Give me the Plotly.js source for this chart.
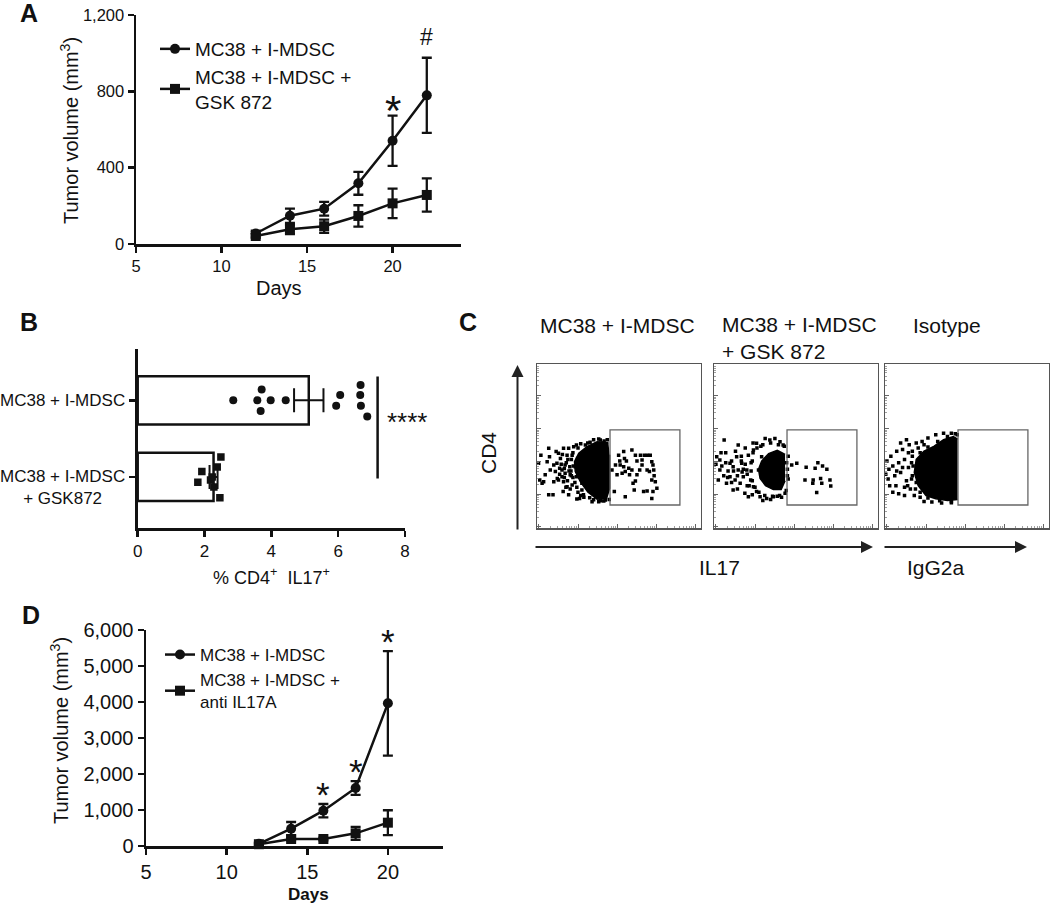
<!DOCTYPE html>
<html><head><meta charset="utf-8">
<script src="https://cdn.plot.ly/plotly-3.0.1.min.js"></script>
<style>html,body{margin:0;padding:0;background:#fff}#chart{width:1050px;height:904px}</style>
</head><body><div id="chart"></div>
<script>
// ---------------- Panel A data ----------------
const daysA = [12, 14, 16, 18, 20, 22];
const tumorA_mdsc = [55, 148, 185, 318, 541, 779];
const semA_mdsc = [15, 37, 36, 60, 132, 197];
const tumorA_gsk = [42, 77, 93, 147, 213, 257];
const semA_gsk = [10, 25, 35, 56, 77, 87];
const namesA = ['MC38 + I-MDSC', 'MC38 + I-MDSC +<br>GSK 872'];
const sigDaysA = [20, 22];
const sigMarksA = ['*', '#'];
const ticksA_x = [5, 10, 15, 20];
const ticksA_y = [0, 400, 800, 1200];

// ---------------- Panel B data ----------------
const groupsB = ['MC38 + I-MDSC', 'MC38 + I-MDSC<br>+ GSK872'];
const meanB = [5.12, 2.27];
const semB = [0.44, 0.12];
const dotsB_mdsc = [2.86, 3.71, 3.58, 3.98, 3.68, 4.43, 6.06, 5.94, 6.67, 6.66, 6.68, 6.87];
const jitterB_mdsc = [0, -0.14, 0, 0, 0.14, 0, -0.07, 0.07, -0.2, -0.07, 0.07, 0.21];
const dotsB_gsk = [2.49, 1.92, 1.80, 2.38, 2.23, 2.28, 2.46, 2.18];
const jitterB_gsk = [-0.26, -0.07, 0.07, -0.13, 0, 0.13, 0.27, 0.04];
const sigB = '****';
const ticksB_x = [0, 2, 4, 6, 8];

// ---------------- Panel C data (log-decade units) ----------------
const titlesC = ['MC38 + I-MDSC', 'MC38 + I-MDSC<br>+ GSK 872', 'Isotype'];
const xLabelsC = ['IL17', 'IgG2a'];
const yLabelC = 'CD4';
const gateX = [1.87, 3.66];
const gateY = [0.71, 3.0];

const coreC1x = [1.83, 1.54, 1.28, 1.07, 0.96, 0.98, 1.11, 1.30, 1.54, 1.78, 1.86, 1.86];
const coreC1y = [2.61, 2.64, 2.49, 2.29, 2.03, 1.73, 1.42, 1.11, 0.89, 0.91, 1.22, 2.24];
const dotsC1x = [0.04,0.07,0.13,0.17,0.30,0.26,0.32,0.34,0.30,0.41,0.43,0.47,0.51,0.55,0.58,0.64,0.68,0.67,0.72,0.77,0.81,0.85,0.90,0.94,1.01,1.02,1.09,0.49,0.60,0.77,0.81,0.64,0.90,0.43,0.55,0.72,0.21,0.10,0.84,0.68,1.19,1.15,1.24,1.36,1.62,1.72,1.04,0.98,1.01,1.15,1.58,1.71,1.41,
  1.05,1.12,1.30,1.45,1.58,1.68,1.80,0.92,0.88,0.93,0.87,0.92,0.97,1.02,1.05,1.12,1.20,1.35,1.45,1.62,1.75,1.85,0.62,0.70,0.75,0.70,0.78,0.82,0.88,0.79,0.65,0.58,0.52,0.74,0.85];
const dotsC1y = [1.98,1.47,1.37,1.42,2.44,2.03,2.18,1.78,1.02,1.02,1.42,1.73,1.98,2.29,1.83,1.57,1.42,1.12,1.93,2.23,2.44,1.63,1.32,2.49,2.54,0.89,0.91,2.34,2.13,1.27,1.02,1.78,2.23,1.93,1.47,1.68,1.63,2.23,1.88,2.44,1.02,1.17,2.54,2.62,2.69,2.66,2.13,1.88,1.57,1.37,0.81,0.83,0.81,
  2.45,2.58,2.60,2.70,2.72,2.60,2.70,2.30,2.10,1.90,1.75,1.55,1.40,1.25,1.10,1.00,0.95,0.93,0.87,0.84,0.86,0.88,1.95,1.82,2.00,1.55,1.45,1.75,1.60,2.10,2.25,1.65,1.52,1.25,1.20];
const gateDotsC1x = [1.92,2.01,2.09,2.12,2.22,2.24,2.29,2.43,2.52,2.56,2.65,2.69,2.75,2.83,2.90,2.94,2.97,2.69,2.82,2.88,2.99,3.00,2.94,3.03,3.07,2.97,2.82,2.73,2.52,2.46,2.43,2.35,2.26,2.18,2.05,1.98,2.26,2.49,2.63,2.56,2.37,2.94,2.13,2.22];
const gateDotsC1y = [1.78,1.93,2.23,2.05,2.34,2.13,2.05,2.39,2.23,2.05,2.23,2.08,2.23,2.23,2.23,2.03,1.93,1.93,1.78,1.73,1.78,1.60,1.47,1.42,1.22,1.12,1.14,1.12,1.44,1.37,1.78,1.83,1.73,1.68,1.63,1.12,0.96,1.17,1.78,1.63,1.63,0.91,1.93,1.88];

const coreC2x = [1.82, 1.62, 1.40, 1.22, 1.14, 1.18, 1.32, 1.52, 1.72, 1.82];
const coreC2y = [2.25, 2.38, 2.28, 2.05, 1.80, 1.52, 1.30, 1.18, 1.18, 1.45];
const dotsC2x = [0.26,0.07,0.15,0.11,0.41,0.49,0.58,0.62,0.67,0.79,0.88,0.84,1.01,1.09,1.31,1.43,1.56,1.69,1.77,1.18,1.35,1.52,1.73,0.41,0.32,0.49,0.15,0.71,0.75,0.88,1.01,1.14,0.94,0.62,0.54,1.22,1.09,1.82,0.30,0.20,0.55,0.70,0.60,0.95,0.85,0.98,1.25,1.45,1.62,1.90,1.88,1.90,0.36,0.72,0.45,1.00,1.20,0.80,
  1.00,1.10,1.25,1.45,1.65,1.80,0.98,0.95,0.98,1.05,1.15,1.30,1.50,1.68,1.85,1.88,1.86,0.80,0.85,0.75,0.90,0.70,0.60,0.50,0.45,0.35,0.25,0.30,0.18,0.05];
const dotsC2y = [2.69,2.18,1.78,1.47,1.57,1.88,2.18,2.54,1.37,1.07,0.96,1.78,2.39,2.59,2.74,2.69,2.74,2.64,2.54,0.96,0.91,0.96,0.95,1.98,1.37,1.17,2.08,1.98,1.57,2.23,1.27,1.78,1.47,1.78,1.47,2.18,1.12,1.07,2.30,1.90,2.35,2.20,1.20,2.00,1.30,1.02,0.85,0.88,0.98,2.20,1.80,1.50,1.75,1.72,2.05,2.60,2.50,2.45,
  2.30,2.45,2.55,2.60,2.55,2.50,2.05,1.75,1.45,1.25,1.10,1.00,0.98,1.00,1.15,1.60,2.00,1.95,1.65,1.80,1.30,2.05,1.60,1.75,1.40,1.55,1.60,2.00,2.30,1.95];
const gateDotsC2x = [1.99, 2.12, 2.36, 2.59, 2.66, 2.78, 2.89, 2.33, 2.54, 2.73, 2.97, 2.99, 2.76, 2.53, 2.63];
const gateDotsC2y = [1.93, 1.98, 1.86, 1.83, 2.00, 1.90, 1.80, 1.47, 1.47, 1.52, 1.47, 1.29, 1.37, 1.37, 1.09];

const coreC3x = [1.86, 1.75, 1.50, 1.25, 1.00, 0.80, 0.75, 0.85, 1.05, 1.30, 1.60, 1.86];
const coreC3y = [2.72, 2.80, 2.70, 2.50, 2.35, 2.10, 1.70, 1.30, 1.00, 0.90, 0.85, 0.88];
const dotsC3x = [0.05,0.10,0.08,0.15,0.20,0.25,0.30,0.35,0.40,0.28,0.45,0.50,0.55,0.60,0.62,0.70,0.65,0.20,0.35,0.50,0.75,0.90,0.40,0.55,0.80,0.95,1.10,1.30,1.50,1.70,1.85,0.12,0.02,0.70,0.68,0.80,1.00,1.20,1.45,1.70,
  0.70,0.72,0.68,0.78,0.90,1.10,1.40,1.70,0.90,1.10,1.35,1.60,1.80,0.60,0.58,0.45,0.30,0.50,0.85,1.00];
const dotsC3y = [2.05,1.80,1.50,2.20,1.90,1.60,2.35,2.00,1.70,1.30,2.40,2.10,1.45,1.85,2.55,2.35,1.20,1.10,1.05,1.00,1.00,0.95,2.60,2.70,2.60,2.65,2.75,2.85,2.90,2.90,2.85,1.30,1.65,1.60,2.00,1.40,0.82,0.80,0.77,0.78,
  2.20,1.90,1.50,1.20,1.10,0.92,0.84,0.82,2.30,2.48,2.65,2.80,2.88,2.30,1.30,1.85,1.75,1.25,2.45,2.55];

// ---------------- Panel D data ----------------
const daysD = [12, 14, 16, 18, 20];
const tumorD_mdsc = [60, 481, 981, 1611, 3963];
const semD_mdsc = [40, 185, 185, 190, 1450];
const tumorD_anti = [50, 194, 194, 352, 648];
const semD_anti = [30, 40, 35, 180, 345];
const namesD = ['MC38 + I-MDSC', 'MC38 + I-MDSC +<br>anti IL17A'];
const sigDaysD = [16, 18, 20];
const ticksD_x = [5, 10, 15, 20];
const ticksD_y = [0, 1000, 2000, 3000, 4000, 5000, 6000];

// ---------------- helpers ----------------
const W = 1050, H = 904;
const X = px => px / W;
const Y = py => 1 - py / H;
const FONT = '"Liberation Sans", Arial, Helvetica, sans-serif';
const INK = '#111';

const traces = [];
const annotations = [];
const shapes = [];

function txt(text, px, py, size, opts) {
  annotations.push(Object.assign({
    text: text, x: X(px), y: Y(py), xref: 'paper', yref: 'paper', showarrow: false,
    font: {family: FONT, size: size, color: INK}, xanchor: 'center', yanchor: 'middle'
  }, opts || {}));
}

function lineAxis(extra) {
  return Object.assign({
    showline: true, linecolor: INK, linewidth: 2.5, ticks: 'outside', ticklen: 6,
    tickwidth: 2.5, tickcolor: INK, showgrid: false, zeroline: false, fixedrange: true,
    tickfont: {family: FONT, color: INK}
  }, extra);
}

function growthSeries(days, vals, sems, name, symbol, xa, ya, leg) {
  traces.push({
    type: 'scatter', mode: 'lines+markers', x: days, y: vals, name: name,
    xaxis: xa, yaxis: ya, legend: leg, cliponaxis: false,
    line: {color: INK, width: 2.5},
    marker: {symbol: symbol, size: 10, color: INK},
    error_y: {type: 'data', array: sems, visible: true, color: INK, thickness: 2.3, width: 5}
  });
}

// ---------------- Panel A ----------------
growthSeries(daysA, tumorA_mdsc, semA_mdsc, namesA[0], 'circle', 'x', 'y', 'legend');
growthSeries(daysA, tumorA_gsk, semA_gsk, namesA[1], 'square', 'x', 'y', 'legend');
sigDaysA.forEach((d, i) => {
  const k = daysA.indexOf(d);
  const star = sigMarksA[i] === '*';
  annotations.push({
    x: d, y: tumorA_mdsc[k] + semA_mdsc[k], xref: 'x', yref: 'y', text: sigMarksA[i],
    showarrow: false, yanchor: 'bottom', yshift: star ? -20 : 6,
    font: {family: FONT, size: star ? 42 : 23, color: INK}
  });
});

// ---------------- Panel B ----------------
traces.push({
  type: 'bar', orientation: 'h', x: meanB, y: [0, 1], width: 0.63,
  xaxis: 'x2', yaxis: 'y2', showlegend: false,
  marker: {color: '#fff', line: {color: INK, width: 2.5}},
  error_x: {type: 'data', array: semB, visible: true, color: INK, thickness: 2, width: 12}
});
traces.push({
  type: 'scatter', mode: 'markers', x: dotsB_mdsc, y: jitterB_mdsc.map(j => 0 + j),
  xaxis: 'x2', yaxis: 'y2', showlegend: false,
  marker: {symbol: 'circle', size: 8, color: INK}
});
traces.push({
  type: 'scatter', mode: 'markers', x: dotsB_gsk, y: jitterB_gsk.map(j => 1 + j),
  xaxis: 'x2', yaxis: 'y2', showlegend: false,
  marker: {symbol: 'square', size: 7.5, color: INK}
});
shapes.push({type: 'line', xref: 'x2', yref: 'y2', x0: 7.18, x1: 7.18, y0: -0.31, y1: 1.02,
  line: {color: INK, width: 2.5}});
annotations.push({x: 7.40, y: 0.28, xref: 'x2', yref: 'y2', text: sigB, showarrow: false,
  xanchor: 'left', yanchor: 'middle', font: {family: FONT, size: 26, color: INK}});
txt(groupsB[0], 127, 400, 17, {xanchor: 'right'});
txt(groupsB[1], 127, 487, 17, {xanchor: 'right', align: 'center'});
txt('% CD4<sup>+</sup>  IL17<sup>+</sup>', 271, 576, 18);

// ---------------- Panel C ----------------
const coresC = [[coreC1x, coreC1y], [coreC2x, coreC2y], [coreC3x, coreC3y]];
const dotsC = [[dotsC1x.concat(gateDotsC1x), dotsC1y.concat(gateDotsC1y)],
               [dotsC2x.concat(gateDotsC2x), dotsC2y.concat(gateDotsC2y)],
               [dotsC3x, dotsC3y]];
const framesC = [[537, 701], [714, 878], [885, 1049]];
const minorTicks = (n, off) => { const v = []; for (let d = 0; d < n; d++) for (let k = 2; k <= 9; k++) v.push(d + off + Math.log10(k)); return v; };
const majorTicks = (n, off) => { const v = []; for (let d = 0; d <= n; d++) v.push(d + off); return v; };

const layout = {
  width: W, height: H, margin: {l: 0, r: 0, t: 0, b: 0},
  paper_bgcolor: '#fff', plot_bgcolor: '#fff', showlegend: true,
  font: {family: FONT, color: INK},
  xaxis: lineAxis({domain: [X(136), X(461)], range: [5, 24], tickvals: ticksA_x, anchor: 'y', tickfont: {family: FONT, size: 16.5, color: INK}}),
  yaxis: lineAxis({domain: [Y(244), Y(15)], range: [0, 1200], tickvals: ticksA_y, tickformat: ',d', anchor: 'x', tickfont: {family: FONT, size: 16.5, color: INK}}),
  xaxis2: lineAxis({domain: [X(137.7), X(405)], range: [0, 8], tickvals: ticksB_x, anchor: 'y2', tickfont: {family: FONT, size: 17, color: INK}}),
  yaxis2: lineAxis({domain: [Y(528.3), Y(349.3)], range: [1.67, -0.665], tickvals: [0, 1], showticklabels: false, anchor: 'x2'}),
  xaxis6: lineAxis({domain: [X(146), X(442.7)], range: [5, 23.4], tickvals: ticksD_x, anchor: 'y6', tickfont: {family: FONT, size: 20, color: INK}}),
  yaxis6: lineAxis({domain: [Y(846), Y(630)], range: [0, 6000], tickvals: ticksD_y, tickformat: ',d', anchor: 'x6', tickfont: {family: FONT, size: 20, color: INK}}),
  legend: {x: X(155), y: Y(30), xanchor: 'left', yanchor: 'top', bgcolor: 'rgba(0,0,0,0)',
    font: {family: FONT, size: 19, color: INK}, tracegroupgap: 0, itemclick: false},
  legend2: {x: X(160), y: Y(637), xanchor: 'left', yanchor: 'top', bgcolor: 'rgba(0,0,0,0)',
    font: {family: FONT, size: 17, color: INK}, tracegroupgap: 0, itemclick: false}
};

framesC.forEach((f, i) => {
  const k = i + 3;
  const xa = 'x' + k, ya = 'y' + k;
  layout['xaxis' + k] = {
    domain: [X(f[0]), X(f[1])], range: [0, 4.2], anchor: ya, showline: true, mirror: true,
    linecolor: '#555', linewidth: 1.3, ticks: 'inside', ticklen: 4, tickwidth: 1, tickcolor: '#666',
    tickmode: 'array', tickvals: majorTicks(4, 0.05), showticklabels: false, showgrid: false, zeroline: false,
    minor: {ticks: 'inside', ticklen: 2, tickwidth: 0.8, tickcolor: '#888', tickmode: 'array', tickvals: minorTicks(4, 0.05)}
  };
  layout['yaxis' + k] = {
    domain: [Y(528.3), Y(364.3)], range: [0, 5], anchor: xa, showline: true, mirror: true,
    linecolor: '#555', linewidth: 1.3, ticks: 'inside', ticklen: 4, tickwidth: 1, tickcolor: '#666',
    tickmode: 'array', tickvals: majorTicks(4, 0.04), showticklabels: false, showgrid: false, zeroline: false,
    minor: {ticks: 'inside', ticklen: 2, tickwidth: 0.8, tickcolor: '#888', tickmode: 'array', tickvals: minorTicks(5, 0.04)}
  };
  traces.push({type: 'scatter', mode: 'lines', x: coresC[i][0], y: coresC[i][1], fill: 'toself',
    fillcolor: '#000', line: {color: '#000', width: 1.5}, xaxis: xa, yaxis: ya, showlegend: false, hoverinfo: 'skip'});
  traces.push({type: 'scatter', mode: 'markers', x: dotsC[i][0], y: dotsC[i][1],
    marker: {symbol: 'square', size: 3.5, color: '#000'}, xaxis: xa, yaxis: ya, showlegend: false, hoverinfo: 'skip'});
  shapes.push({type: 'rect', xref: xa, yref: ya, x0: gateX[0], x1: gateX[1], y0: gateY[0], y1: gateY[1],
    line: {color: '#666', width: 1.3}});
});

txt(titlesC[0], 617, 325, 21);
txt(titlesC[1], 719.6, 338.3, 21, {xanchor: 'left', align: 'left'});
txt(titlesC[2], 947, 325, 21);
txt(yLabelC, 488, 453, 21, {textangle: -90});
txt(xLabelsC[0], 719.6, 567, 21);
txt(xLabelsC[1], 936, 567, 21);
const arrow = (hx, hy, ax, ay) => annotations.push({x: X(hx), y: Y(hy), xref: 'paper', yref: 'paper',
  ax: ax, ay: ay, text: '', showarrow: true, arrowhead: 2, arrowsize: 1.2, arrowwidth: 2, arrowcolor: '#222'});
arrow(517.5, 365, 0, 166);
arrow(873, 547, -339, 0);
arrow(1027, 547, -144, 0);

// ---------------- Panel D ----------------
growthSeries(daysD, tumorD_mdsc, semD_mdsc, namesD[0], 'circle', 'x6', 'y6', 'legend2');
growthSeries(daysD, tumorD_anti, semD_anti, namesD[1], 'square', 'x6', 'y6', 'legend2');
sigDaysD.forEach(d => {
  const k = daysD.indexOf(d);
  annotations.push({x: d, y: tumorD_mdsc[k] + semD_mdsc[k], xref: 'x6', yref: 'y6', text: '*',
    showarrow: false, yanchor: 'bottom', yshift: -12, font: {family: FONT, size: 35, color: INK}});
});

// ---------------- axis titles & panel letters ----------------
txt('Tumor volume (mm<sup>3</sup>)', 70, 131, 20, {textangle: -90});
txt('Days', 279, 288, 20);
txt('Tumor volume (mm<sup>3</sup>)', 59, 731, 20, {textangle: -90});
txt('<b>Days</b>', 308, 894, 17);
txt('<b>A</b>', 29, 13, 25);
txt('<b>B</b>', 29, 322, 25);
txt('<b>C</b>', 468, 322, 25);
txt('<b>D</b>', 31, 615, 25);

layout.annotations = annotations;
layout.shapes = shapes;

Plotly.newPlot('chart', traces, layout, {staticPlot: true, displayModeBar: false});
</script></body></html>
